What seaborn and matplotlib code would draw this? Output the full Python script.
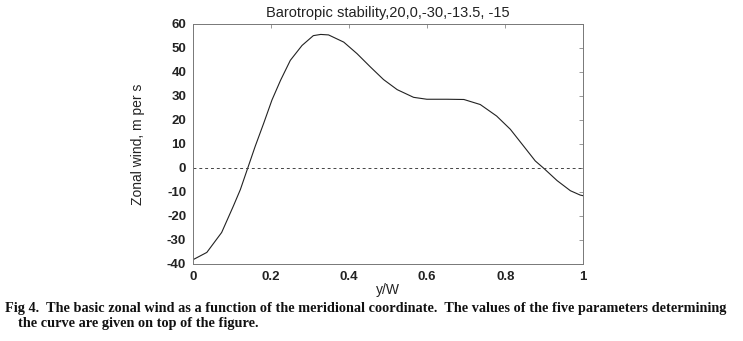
import numpy as np
import pandas as pd
import matplotlib
matplotlib.use("Agg")
import matplotlib.pyplot as plt
import seaborn as sns

# curve
y_over_w = [0.0, 0.035, 0.073, 0.103, 0.121, 0.140, 0.159, 0.181, 0.202,
            0.224, 0.249, 0.279, 0.308, 0.327, 0.347, 0.386, 0.420, 0.454,
            0.488, 0.523, 0.565, 0.599, 0.651, 0.694, 0.736, 0.778, 0.813,
            0.847, 0.877, 0.899, 0.933, 0.967, 0.992, 1.0]
zonal_wind = [-38.2, -35.2, -26.9, -15.9, -9.0, 0.0, 9.0, 18.7, 28.3,
              36.5, 44.8, 51.0, 55.1, 55.6, 55.4, 52.4, 47.6, 42.1,
              36.8, 32.6, 29.4, 28.6, 28.6, 28.5, 26.4, 21.6, 16.1,
              9.1, 2.9, -0.2, -5.3, -9.5, -11.3, -11.6]

x_ticks = [0, 0.2, 0.4, 0.6, 0.8, 1]
x_tick_labels = ["0", "0.2", "0.4", "0.6", "0.8", "1"]
y_ticks = [-40, -30, -20, -10, 0, 10, 20, 30, 40, 50, 60]

title = "Barotropic stability,20,0,-30,-13.5, -15"
caption_1 = ("Fig 4.  The basic zonal wind as a function of the meridional coordinate.  "
             "The values of the five parameters determining")
caption_2 = "the curve are given on top of the figure."

df = pd.DataFrame({"y/W": y_over_w, "wind": zonal_wind})

sns.set_style("white")
plt.rcParams["font.family"] = ["Liberation Sans", "DejaVu Sans"]
plt.rcParams["axes.unicode_minus"] = False

fig = plt.figure(figsize=(7.43, 3.41), dpi=100)
ax = fig.add_axes([0.260, 0.226, 0.525, 0.704])

sns.lineplot(data=df, x="y/W", y="wind", ax=ax, color="#222222", linewidth=0.8)
ax.axhline(0, color="#444444", linewidth=0.7, linestyle=(0, (3, 3)))

ax.set_xlim(0, 1)
ax.set_ylim(-40, 60)
ax.set_xticks(x_ticks)
ax.set_xticklabels(x_tick_labels)
ax.set_yticks(y_ticks)
ax.tick_params(direction="in", length=3, width=0.6, color="#888888",
               labelsize=9.5, top=True, right=True, pad=5)
for lbl in ax.get_xticklabels() + ax.get_yticklabels():
    lbl.set_fontweight("bold")
    lbl.set_color("#222222")
for s in ax.spines.values():
    s.set_linewidth(0.7)
    s.set_color("#777777")

ax.set_xlabel("y/W", fontsize=10, color="#222222", labelpad=0)
ax.set_ylabel("Zonal wind, m per s", fontsize=10, color="#222222", labelpad=16)
ax.set_title(title, fontsize=10.5, color="#222222", pad=5)

fig.text(0.007, 0.096, caption_1, family="Liberation Serif", fontweight="bold",
         fontsize=10.3, color="#111111", ha="left", va="center")
fig.text(0.024, 0.050, caption_2, family="Liberation Serif", fontweight="bold",
         fontsize=10.3, color="#111111", ha="left", va="center")

plt.savefig("out.png", dpi=100)
